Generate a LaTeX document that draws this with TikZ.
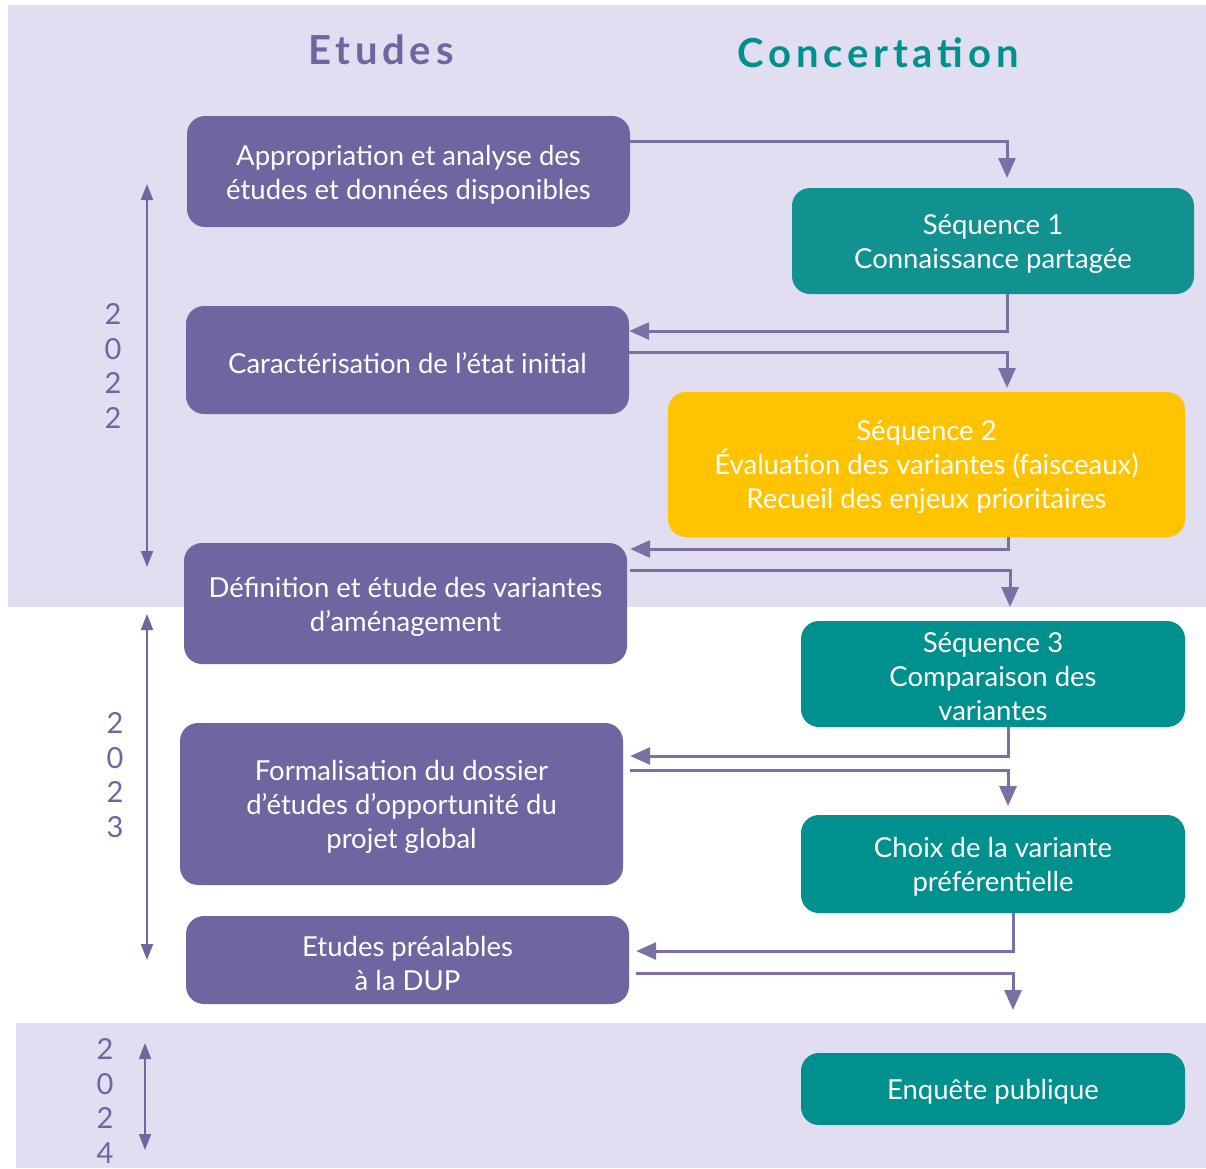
\documentclass[tikz,border=0pt]{standalone}
\usepackage{fontspec}
\setmainfont{Lato}
\usetikzlibrary{arrows.meta,calc}
\definecolor{bgl}{HTML}{E0DEF0}
\definecolor{pur}{HTML}{6E66A0}
\definecolor{tea}{HTML}{00918E}
\definecolor{tea1}{HTML}{119190}
\definecolor{yel}{HTML}{FFC300}
\definecolor{arr}{HTML}{7B6FA3}
\begin{document}
\begin{tikzpicture}[x=1pt,y=-1pt,
  box/.style={rounded corners=18pt, inner sep=0pt},
  bt/.style={text=white, align=center, inner sep=0pt, yshift=-3pt,
    font=\fontsize{27.5}{34}\selectfont},
  flow/.style={draw=arr, line width=3pt, -{Triangle[length=20pt,width=17pt]}},
  yr/.style={draw=pur, line width=2pt, {Triangle[length=16pt,width=12pt]}-{Triangle[length=16pt,width=12pt]}},
  yrtxt/.style={text=pur, align=center, inner sep=0pt, font=\fontsize{29}{34.5}\selectfont},
  head/.style={inner sep=0pt, font=\fontsize{40}{40}\bfseries\addfontfeature{LetterSpace=12}}]
\useasboundingbox (0,0) rectangle (1206,1168);
\fill[white] (0,0) rectangle (1206,1168);
\fill[bgl] (8,5) rectangle (1206,607);
\fill[bgl] (16,1023) rectangle (1206,1168);

\node[head, text=pur] (hE) at (381,50) {Etudes};
\node[head, text=tea] (hC) at (878,53) {Concertation};

\node[box, fill=pur, minimum width=443pt, minimum height=111pt,
  label={[bt]center:Appropriation et analyse des\\études et données disponibles}] (b1) at (408.5,171.5) {};
\node[box, fill=tea1, minimum width=402pt, minimum height=106pt,
  label={[bt]center:Séquence 1\\Connaissance partagée}] (s1) at (993,241) {};
\node[box, fill=pur, minimum width=443pt, minimum height=108pt,
  label={[bt]center:Caractérisation de l’état initial}] (b3) at (407.5,360) {};
\node[box, fill=yel, minimum width=517pt, minimum height=145pt,
  label={[bt]center:Séquence 2\\Évaluation des variantes (faisceaux)\\Recueil des enjeux prioritaires}] (s2) at (926.5,464.5) {};
\node[box, fill=pur, minimum width=443pt, minimum height=121pt,
  label={[bt]center:Définition et étude des variantes\\d’aménagement}] (b5) at (405.5,603.5) {};
\node[box, fill=tea, minimum width=384pt, minimum height=106pt,
  label={[bt]center:Séquence 3\\Comparaison des\\variantes}] (s3) at (993,674) {};
\node[box, fill=pur, minimum width=443pt, minimum height=162pt,
  label={[bt]center:Formalisation du dossier\\d’études d’opportunité du\\projet global}] (b7) at (401.5,804) {};
\node[box, fill=tea, minimum width=384pt, minimum height=98pt,
  label={[bt]center:Choix de la variante\\préférentielle}] (s4) at (993,864) {};
\node[box, fill=pur, minimum width=443pt, minimum height=88pt,
  label={[bt]center:Etudes préalables\\à la DUP}] (b9) at (407.5,960) {};
\node[box, fill=tea, minimum width=384pt, minimum height=72pt,
  label={[bt]center:Enquête publique}] (s5) at (993,1089) {};

\draw[flow] (b1.east |- 0,141) -| (1007,178);
\draw[flow] (1007,0 |- s1.south) |- (b3.east |- 0,331);
\draw[flow] (b3.east |- 0,352) -| (1007,388);
\draw[flow] (1008,0 |- s2.south) |- ([xshift=3pt]b5.east |- 0,549);
\draw[flow] ([xshift=3pt]b5.east |- 0,570) -| (1010,607);
\draw[flow] (1008,0 |- s3.south) |- ([xshift=7pt]b7.east |- 0,756);
\draw[flow] ([xshift=7pt]b7.east |- 0,770) -| (1008,806);
\draw[flow] (1013,0 |- s4.south) |- ([xshift=7pt]b9.east |- 0,951);
\draw[flow] ([xshift=7pt]b9.east |- 0,973) -| (1013,1010);

\coordinate (y1a) at (147,184); \coordinate (y1b) at (147,567);
\coordinate (y2a) at (147,614); \coordinate (y2b) at (147,960);
\coordinate (y3a) at (145,1043); \coordinate (y3b) at (145,1150);
\draw[yr] (y1a) -- (y1b);
\draw[yr] (y2a) -- (y2b);
\draw[yr] (y3a) -- (y3b);
\node[yrtxt] (t1) at (113,366) {2\\0\\2\\2};
\node[yrtxt] (t2) at (115,775) {2\\0\\2\\3};
\node[yrtxt] (t3) at (105,1101) {2\\0\\2\\4};
\end{tikzpicture}
\end{document}
